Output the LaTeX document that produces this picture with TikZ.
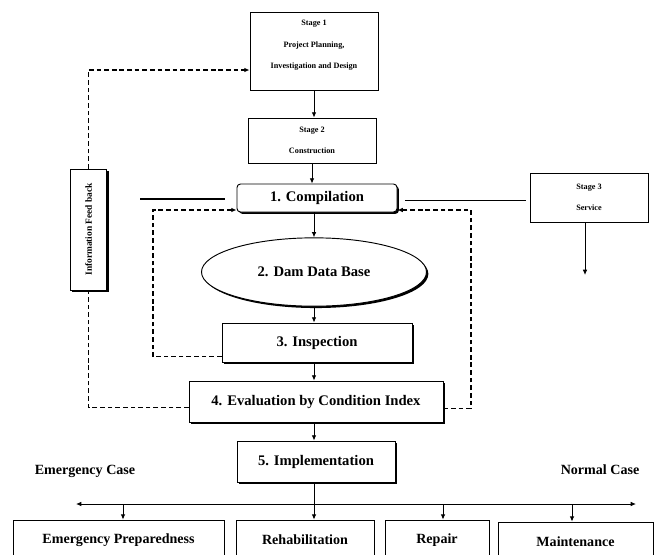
\documentclass[tikz,border=0pt]{standalone}
\usepackage{fontspec}
\setmainfont{Liberation Serif}
\usetikzlibrary{positioning, shapes.geometric, arrows.meta, shadows}

\begin{document}
\begin{tikzpicture}[x=0.03cm, y=-0.03cm,
  every node/.style={font=\bfseries},
  stagebox/.style={draw, fill=white, line width=0.8pt, align=center,
    font=\bfseries\fontsize{7}{18}\selectfont},
  stepbox/.style={draw, fill=white, line width=0.8pt,
    font=\bfseries\fontsize{12.5}{15}\selectfont,
    drop shadow={shadow xshift=1.6pt, shadow yshift=-1.6pt, opacity=1, fill=black}},
  outbox/.style={draw, fill=white, line width=0.7pt, minimum height=1.2cm,
    font=\bfseries\fontsize{12}{14}\selectfont},
  casetext/.style={font=\bfseries\fontsize{12}{14}\selectfont},
  flow/.style={-{Latex[length=4.5pt,width=4pt]}, line width=0.8pt},
  fb/.style={dash pattern=on 4pt off 2.5pt, line width=0.9pt},
]
\useasboundingbox (0,0) rectangle (657,554);
% Stages of the project
\node[stagebox, text depth=0.4cm, minimum width=3.84cm, minimum height=2.34cm] (stage1) at (314,51)
  {Stage 1\\Project Planning,\\Investigation and Design};
\node[stagebox, minimum width=3.84cm, minimum height=1.35cm] (stage2) at (312,140.5)
  {Stage 2\\Construction};
\node[stagebox, minimum width=3.54cm, minimum height=1.47cm] (stage3) at (589,197.5)
  {Stage 3\\Service};
% Main steps of the dam management
\node[stepbox, rounded corners=3pt, minimum width=4.8cm, minimum height=0.84cm] (comp) at (317,198)
  {1. Compilation};
\node[stepbox, ellipse, inner sep=0pt, minimum width=6.75cm, minimum height=2.05cm] (database) at (314,272)
  {2. Dam Data Base};
\node[stepbox, minimum width=5.7cm, minimum height=1.17cm] (insp) at (317,342.5)
  {3. Inspection};
\node[stepbox, minimum width=7.62cm, minimum height=1.23cm] (eval) at (316,401.5)
  {4. Evaluation by Condition Index};
\node[stepbox, drop shadow={shadow xshift=0.8pt, shadow yshift=-0.8pt, opacity=1, fill=black},
  minimum width=4.74cm, minimum height=1.23cm] (impl) at (316,461.5)
  {5. Implementation};
\node[stepbox, rotate=90, minimum width=3.63cm, minimum height=1.1cm,
  font=\bfseries\fontsize{8}{10}\selectfont] (info) at (88.5,229.5)
  {Information Feed back};
% Kinds of works
\node[outbox, minimum width=6.33cm] (prep) at (118.5,540) {Emergency Preparedness};
\node[outbox, minimum width=4.14cm] (rehab) at (305,540) {Rehabilitation};
\node[outbox, minimum width=3.12cm] (repair) at (437,540) {Repair};
\node[outbox, minimum width=4.65cm] (maint) at (575.5,542) {Maintenance};
\node[casetext] (emcase) at (85,471) {Emergency Case};
\node[casetext] (nocase) at (600,470) {Normal Case};
% Main flow
\draw[flow] (stage1.south) -- (stage1.south |- stage2.north);
\draw[flow] (stage2.south) -- (stage2.south |- comp.north);
\draw[flow] (comp.south -| database.north) -- (database.north);
\draw[flow] (database.south) -- (database.south |- insp.north);
\draw[flow] (insp.south -| database.south) -- (database.south |- eval.north);
\draw[flow] (eval.south -| database.south) -- (database.south |- impl.north);
\draw[flow] (impl.south -| database.south) -- (database.south |- rehab.north);
% Service line and branches
\coordinate (lineL) at (140,199);
\coordinate (lineLend) at (225,199);
\coordinate (lineR) at (405,200);
\coordinate (lineRend) at (526,200);
\coordinate (svc) at (585,275);
\draw[line width=0.9pt] (lineL) -- (lineLend);
\draw[line width=0.8pt] (lineR) -- (lineRend);
\draw[flow] (stage3.south -| svc) -- (svc);
\coordinate (caseL) at (76,504);
\coordinate (caseR) at (636,504);
\draw[{Latex[length=4.5pt,width=4pt]}-{Latex[length=4.5pt,width=4pt]}, line width=0.8pt] (caseL) -- (caseR);
\foreach \work/\xx in {prep/123, repair/443, maint/572} {
  \draw[flow] (\xx,504) -- (\xx,504 |- \work.north);
}
% Feedback loops
\coordinate (loopR) at (471,300);
\coordinate (loopL) at (153,300);
\draw[fb, -{Latex[length=4.5pt,width=4pt]}] ([yshift=-0.2cm]eval.east) -| (loopR) |- ([yshift=-0.36cm]comp.east);
\draw[fb, -{Latex[length=4.5pt,width=4pt]}] ([yshift=-0.43cm]insp.west) -| (loopL) |- ([yshift=-0.36cm]comp.west);
\draw[fb] ([yshift=-0.17cm]eval.west) -| (info.west);
\draw[fb, -{Latex[length=4.5pt,width=4pt]}] (info.east) |- ([yshift=-0.57cm]stage1.west);
\end{tikzpicture}
\end{document}
